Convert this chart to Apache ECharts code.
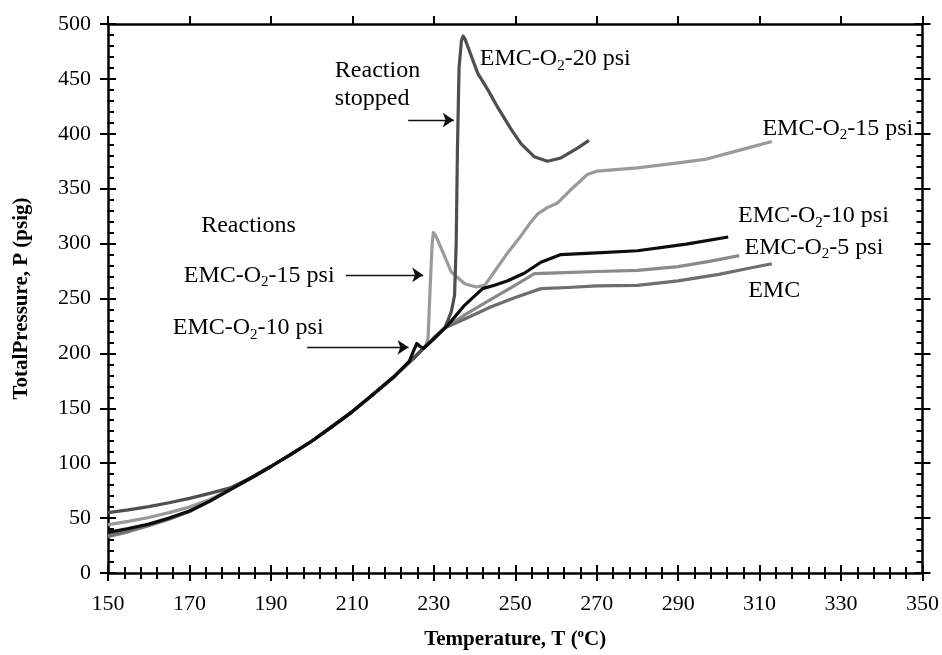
<!DOCTYPE html>
<html>
<head>
<meta charset="utf-8">
<script src="https://cdn.jsdelivr.net/npm/echarts@6/dist/echarts.min.js"></script>
<style>html,body{margin:0;padding:0;background:#fff}#c{width:942px;height:655px}</style>
</head>
<body>
<div id="c"></div>
<script>
// ---- data: [Temperature °C, Total pressure psig] ----
const emc20 = [[150,55],[155,57.5],[160,60.5],[165,64],[170,68],[175,72.5],[180,77.5],[185,86.5],[190,97],[195,108.3],[200,120],[205,133.3],[210,147],[215,162.3],[220,178],[225,195.6],[228,206.5],[230,214],[232.7,223],[234.3,238],[235.1,253],[235.5,300],[235.8,385],[236.2,460],[236.8,485],[237.2,489],[237.7,486],[238.8,475],[240.8,455],[243.3,440],[245.7,424],[249,404],[251.4,391],[254.7,379],[257.9,375],[261.2,378],[265.3,387],[268.1,394]];
const emc15 = [[150,44],[155,47],[160,50.5],[165,55],[170,60],[175,67],[180,76],[185,86.3],[190,97],[195,108.3],[200,120],[205,133.3],[210,147],[215,162.3],[220,178],[225,195.6],[228,206.5],[228.6,214],[229.1,260],[229.6,300],[229.9,310],[230.5,307],[231.9,295],[234.3,274],[237.6,263.5],[240.4,260.5],[242.5,262],[245,275],[248.2,292],[251,305],[253.5,318],[255.5,327],[258,333],[260.4,337],[263.6,349],[266,357],[267.7,363],[270.1,366],[280,369],[290,373.5],[297,377],[304,384],[309,389],[313,393]];
const emc10 = [[150,37],[155,40.5],[160,44.5],[165,50],[170,56.5],[175,65.5],[180,76],[185,86.3],[190,97],[195,108.3],[200,120],[205,133.3],[210,147],[215,162.3],[220,178],[224,193],[225,202],[225.8,209],[226.6,206.5],[227.4,204.5],[228.2,207],[230,213],[233.5,226],[237.6,244],[242,259],[244.9,262],[248,266],[252.2,273],[256.3,283],[261.2,290],[270,291.5],[280,293.5],[292,299.5],[302.3,306]];
const emc5 = [[150,33],[155,37.5],[160,43],[165,49],[170,56],[175,65.5],[180,76],[185,86.3],[190,97],[195,108.3],[200,120],[205,133.3],[210,147],[215,162.3],[220,178],[225,195.6],[228,206.5],[230,214],[232.6,223],[238,236],[243.7,248.5],[249,260],[254.7,272.6],[262,273.5],[270,274.6],[280,275.6],[290,279],[298,284],[305,289]];
const emc = [[150,34],[155,38.5],[160,43.5],[165,49.5],[170,56],[175,65.5],[180,76],[185,86.3],[190,97],[195,108.3],[200,120],[205,133.3],[210,147],[215,162.3],[220,178],[225,195.6],[228,206.5],[230,214],[232.6,223],[238,232],[244.1,242.5],[250,251],[256.3,259],[263,260],[270,261.5],[280,262],[290,266],[300,272],[308,278],[313,281.6]];

const xTicks = [150,170,190,210,230,250,270,290,310,330,350];
const yTicks = [0,50,100,150,200,250,300,350,400,450,500];

// annotation texts and anchor points (data coords)
const annotations = [
  {text:'EMC-O{s|2}-20 psi', at:[241.3,468], pos:'right'},
  {text:'Reaction\nstopped', at:[205.7,445], pos:'right'},
  {text:'Reactions', at:[184.5,316.5], pos:'inside'},
  {text:'EMC-O{s|2}-15 psi', at:[168.6,271], pos:'right'},
  {text:'EMC-O{s|2}-10 psi', at:[165.9,223], pos:'right'},
  {text:'EMC-O{s|2}-15 psi', at:[310.7,405], pos:'right'},
  {text:'EMC-O{s|2}-10 psi', at:[304.7,325], pos:'right'},
  {text:'EMC-O{s|2}-5 psi', at:[306.3,296.5], pos:'right'},
  {text:'EMC', at:[307.2,257.5], pos:'right'}
];
const arrows = [
  [[223.7,412.5],[234.9,412.5]],
  [[208.4,271.5],[227.4,271.5]],
  [[198.9,205.5],[223.8,205.5]]
];

const minorX = []; for (let v = 150; v <= 350; v += 4) minorX.push(v);
const minorY = []; for (let v = 0; v <= 500; v += 10) minorY.push(v);

const FONT = 'Liberation Serif';
const axisLineStyle = {color:'#000', width:2.5};

function xAx(position, cfg) {
  return Object.assign({
    type:'value', position, min:150, max:350, splitLine:{show:false},
    axisLine:{show:false, lineStyle:axisLineStyle},
    axisLabel:{show:false}, axisTick:{show:false}
  }, cfg);
}
function yAx(position, cfg) {
  return Object.assign({
    type:'value', position, min:0, max:500, splitLine:{show:false},
    axisLine:{show:false, lineStyle:axisLineStyle},
    axisLabel:{show:false}, axisTick:{show:false}
  }, cfg);
}
const tickStyle = {color:'#000', width:2};
const lineCommon = {type:'line', showSymbol:false, smooth:false};

const chart = echarts.init(document.getElementById('c'), null, {renderer:'canvas'});
chart.setOption({
  animation:false,
  backgroundColor:'#fff',
  grid:{left:108, right:15, top:24, bottom:78, containLabel:false},
  xAxis:[
    xAx('bottom', {
      axisLine:{show:true, onZero:false, lineStyle:axisLineStyle},
      axisLabel:{show:true, customValues:xTicks, fontFamily:FONT, fontSize:22, color:'#000', margin:20},
      axisTick:{show:true, customValues:xTicks, inside:false, length:8, lineStyle:tickStyle},
      name:'Temperature, T ({p|o}C)', nameLocation:'middle', nameGap:54,
      nameTextStyle:{fontFamily:FONT, fontSize:21, fontWeight:'bold', color:'#000',
        rich:{p:{fontFamily:FONT, fontSize:13, fontWeight:'bold', padding:[0,0,12,0]}}}
    }),
    xAx('bottom', {axisTick:{show:true, customValues:xTicks, inside:true, length:8, lineStyle:tickStyle}}),
    xAx('bottom', {axisTick:{show:true, customValues:minorX, inside:true, length:6, lineStyle:tickStyle}}),
    xAx('top', {axisLine:{show:true, onZero:false, lineStyle:axisLineStyle},
      axisTick:{show:true, customValues:xTicks, inside:false, length:8, lineStyle:tickStyle}}),
    xAx('top', {axisTick:{show:true, customValues:xTicks, inside:true, length:8, lineStyle:tickStyle}}),
    xAx('top', {axisTick:{show:true, customValues:minorX, inside:true, length:6, lineStyle:tickStyle}})
  ],
  yAxis:[
    yAx('left', {
      axisLine:{show:true, onZero:false, lineStyle:axisLineStyle},
      axisLabel:{show:true, customValues:yTicks, fontFamily:FONT, fontSize:22, color:'#000', margin:17},
      axisTick:{show:true, customValues:yTicks, inside:false, length:8, lineStyle:tickStyle},
      name:'TotalPressure, P (psig)', nameLocation:'middle', nameGap:76,
      nameTextStyle:{fontFamily:FONT, fontSize:21, fontWeight:'bold', color:'#000'}
    }),
    yAx('left', {axisTick:{show:true, customValues:yTicks, inside:true, length:8, lineStyle:tickStyle}}),
    yAx('left', {axisTick:{show:true, customValues:minorY, inside:true, length:6, lineStyle:tickStyle}}),
    yAx('right', {axisLine:{show:true, onZero:false, lineStyle:axisLineStyle},
      axisTick:{show:true, customValues:yTicks, inside:false, length:8, lineStyle:tickStyle}}),
    yAx('right', {axisTick:{show:true, customValues:yTicks, inside:true, length:8, lineStyle:tickStyle}}),
    yAx('right', {axisTick:{show:true, customValues:minorY, inside:true, length:6, lineStyle:tickStyle}})
  ],
  series:[
    Object.assign({name:'EMC-O2-15 psi', data:emc15, lineStyle:{color:'#9a9a9a', width:3.2, join:'round'}, z:2}, lineCommon),
    Object.assign({name:'EMC-O2-5 psi', data:emc5, lineStyle:{color:'#8a8a8a', width:3.2, join:'round'}, z:3}, lineCommon),
    Object.assign({name:'EMC', data:emc, lineStyle:{color:'#6e6e6e', width:3.2, join:'round'}, z:3}, lineCommon),
    Object.assign({name:'EMC-O2-20 psi', data:emc20, lineStyle:{color:'#4e4e4e', width:3.2, join:'round'}, z:4}, lineCommon),
    Object.assign({name:'EMC-O2-10 psi', data:emc10, lineStyle:{color:'#0d0d0d', width:3.2, join:'round'}, z:5}, lineCommon),
    {type:'lines', coordinateSystem:'cartesian2d', silent:true, z:6,
      symbol:['none','arrow'], symbolSize:[0,11],
      lineStyle:{color:'#111', width:1.3, opacity:1},
      data:arrows.map(a => ({coords:a}))},
    {type:'scatter', silent:true, symbolSize:0, z:7, itemStyle:{opacity:1},
      data:annotations.map(a => ({
        value:a.at,
        label:{show:true, position:a.pos, distance:0, formatter:a.text,
          align: a.pos === 'inside' ? 'center' : 'left',
          fontFamily:FONT, fontSize:24, color:'#000', opacity:1, lineHeight:28,
          rich:{s:{fontFamily:FONT, fontSize:15, color:'#000', padding:[13,0,0,0]}}}
      }))}
  ]
});
</script>
</body>
</html>
